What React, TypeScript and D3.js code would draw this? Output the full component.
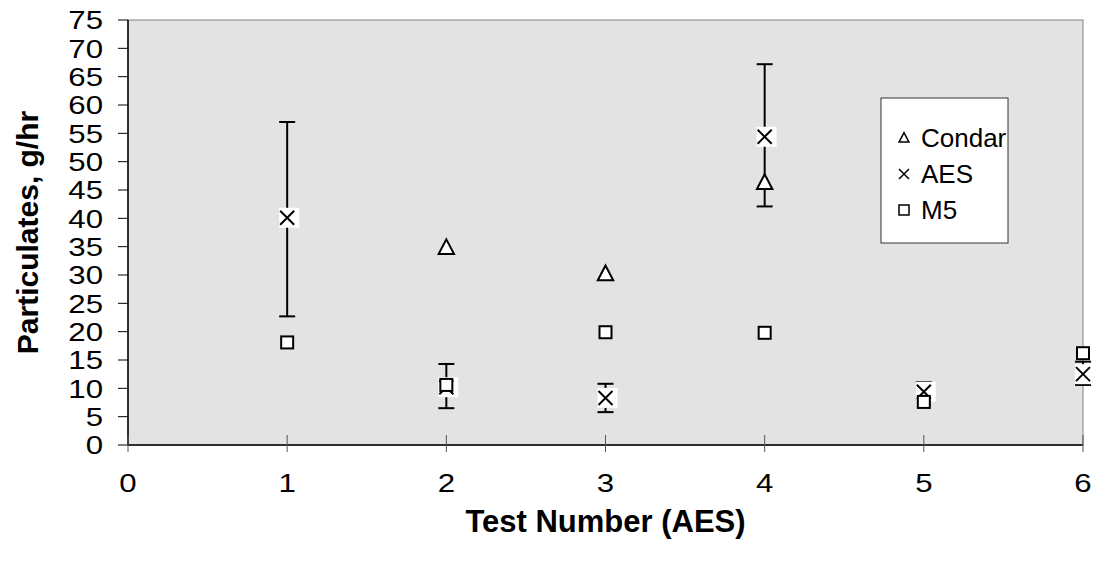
import React from 'react'
import * as d3 from 'd3'

// test numbers
const tests = [1, 2, 3, 4, 5, 6]
const condarX = [2, 3, 4]
const condar = [34.8, 30.2, 46.3]
const aes = [40.1, 10.2, 8.3, 54.4, 9.4, 12.5]
const aesLow = [22.7, 6.5, 5.8, 42.1, 8.0, 10.6]
const aesHigh = [57.0, 14.3, 10.8, 67.2, 11.1, 14.7]
const m5 = [18.1, 10.6, 19.9, 19.8, 7.6, 16.2]
const yTicks = d3.range(0, 80, 5)
const xTicks = [0, 1, 2, 3, 4, 5, 6]

const W = 1095
const H = 567
const margin = { top: 20, right: 12, bottom: 122, left: 128 }
const font = 'Arial, "Liberation Sans", sans-serif'

const App = () => {
  const iw = W - margin.left - margin.right
  const ih = H - margin.top - margin.bottom
  const x = d3.scaleLinear().domain([0, 6]).range([0, iw])
  const y = d3.scaleLinear().domain([0, 75]).range([ih, 0])

  const tri = (s: number) => `M0,${-s * 0.6}L${s * 0.55},${s * 0.45}L${-s * 0.55},${s * 0.45}Z`

  return (
    <svg width={W} height={H} style={{ position: 'absolute', left: 0, top: 0, background: '#fff' }}>
      <g transform={`translate(${margin.left},${margin.top})`} fontFamily={font}>
        <rect x={0} y={0} width={iw} height={ih} fill="#e3e3e3" stroke="#808080" strokeWidth={1} />

        {/* y axis */}
        <line x1={0} x2={0} y1={0} y2={ih} stroke="#000" strokeWidth={1.5} />
        {yTicks.map(t => (
          <g key={t} transform={`translate(0,${y(t)})`}>
            <line x1={-10} x2={0} stroke="#000" strokeWidth={1} />
            <text transform="translate(-25,0) scale(1.2,1)" dy="0.36em" textAnchor="end" fontSize={26}>{t}</text>
          </g>
        ))}

        {/* x axis */}
        <line x1={0} x2={iw} y1={ih} y2={ih} stroke="#000" strokeWidth={1.5} />
        {xTicks.map(t => (
          <g key={t} transform={`translate(${x(t)},${ih})`}>
            <line y1={-10} y2={7} stroke="#555" strokeWidth={1} />
            <text transform="translate(0,47) scale(1.2,1)" textAnchor="middle" fontSize={26}>{t}</text>
          </g>
        ))}

        {/* AES error bars */}
        {tests.map((t, i) => (
          <g key={t} stroke="#000" strokeWidth={2}>
            <line x1={x(t)} x2={x(t)} y1={y(aesLow[i])} y2={y(aesHigh[i])} />
            <line x1={x(t) - 8} x2={x(t) + 8} y1={y(aesLow[i])} y2={y(aesLow[i])} />
            <line x1={x(t) - 8} x2={x(t) + 8} y1={y(aesHigh[i])} y2={y(aesHigh[i])} />
          </g>
        ))}

        {/* Condar */}
        {condarX.map((t, i) => (
          <path key={t} d={tri(14)} transform={`translate(${x(t)},${y(condar[i])})`}
            fill="#fff" stroke="#000" strokeWidth={2} strokeLinejoin="miter" />
        ))}

        {/* AES */}
        {tests.map((t, i) => (
          <g key={t} transform={`translate(${x(t)},${y(aes[i])})`}>
            <rect x={-8} y={-10} width={20} height={20} fill="#fff" />
            <path d="M-7,-7L7,7M-7,7L7,-7" stroke="#000" strokeWidth={2} />
          </g>
        ))}

        {/* M5 */}
        {tests.map((t, i) => (
          <rect key={t} x={x(t) - 6} y={y(m5[i]) - 6} width={12} height={12}
            fill="#fff" stroke="#000" strokeWidth={2} />
        ))}

        {/* legend */}
        <g transform="translate(753,78)">
          <rect x={0} y={0} width={127} height={145} fill="#fff" stroke="#333" strokeWidth={1} />
          <path d={tri(9)} transform="translate(23,40)" fill="#fff" stroke="#000" strokeWidth={1.5} />
          <text x={40} y={49} fontSize={26}>Condar</text>
          <path d="M-5,-5L5,5M-5,5L5,-5" transform="translate(23,76)" stroke="#000" strokeWidth={1.5} />
          <text x={40} y={85} fontSize={26}>AES</text>
          <rect x={18} y={107} width={10} height={10} fill="#fff" stroke="#000" strokeWidth={1.5} />
          <text x={40} y={121} fontSize={26}>M5</text>
        </g>

        {/* axis titles */}
        <text x={iw / 2} y={ih + 87} textAnchor="middle" fontSize={31} fontWeight="bold">Test Number (AES)</text>
        <text transform={`translate(-90,${ih / 2}) rotate(-90)`} textAnchor="middle" fontSize={30} fontWeight="bold">
          Particulates, g/hr
        </text>
      </g>
    </svg>
  )
}

export default App
